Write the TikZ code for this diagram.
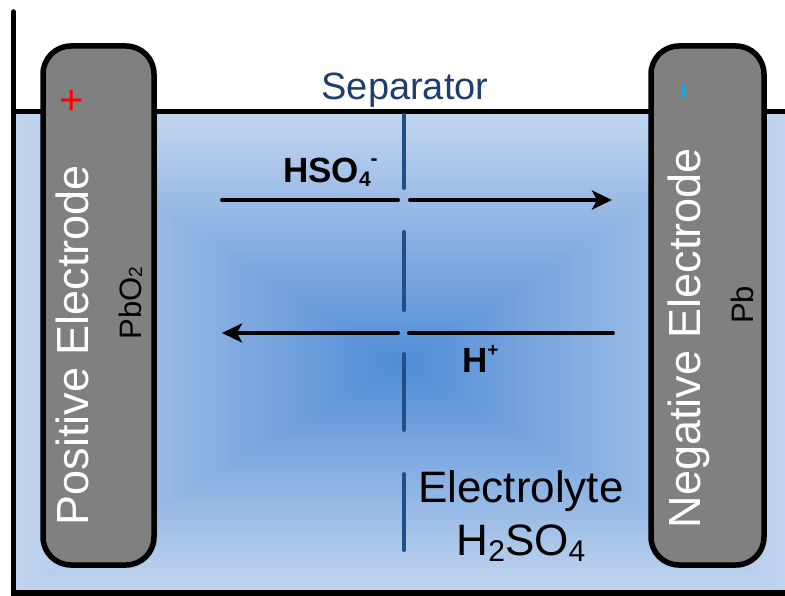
\documentclass[tikz,border=0pt]{standalone}
\usepackage{fontspec}
\setmainfont{Liberation Sans}
\usetikzlibrary{arrows.meta}
\definecolor{edgeblue}{RGB}{194,213,239}
\definecolor{coreblue}{RGB}{80,140,214}
\definecolor{sepblue}{RGB}{32,78,135}
\definecolor{septext}{RGB}{31,62,110}
\definecolor{elgray}{RGB}{128,128,128}
\definecolor{minuscyan}{RGB}{0,176,240}
\newcommand{\smallat}[3]{\raisebox{#1}{\fontsize{#2}{#2}\selectfont #3}}
\tikzset{
  wall/.style={line width=5.5pt, line cap=round},
  electrode/.style={draw=black, line width=5.5pt, fill=elgray, rounded corners=28pt, inner sep=0pt},
  eltext/.style={text=white, font=\fontsize{45}{54}\selectfont, rotate=90, anchor=base, inner sep=0pt},
  mattext/.style={text=black, font=\fontsize{31}{36}\selectfont, rotate=90, anchor=base, inner sep=0pt},
  sepline/.style={draw=sepblue, line width=4pt, line cap=round},
  ionarrow/.style={draw=black, line width=4pt, line cap=round},
  iontip/.style={-{Stealth[length=20pt,width=19pt,inset=5pt]}},
  ionlabel/.style={font=\bfseries\fontsize{35}{40}\selectfont, anchor=base west, inner sep=0pt},
  bigtext/.style={font=\fontsize{44}{50}\selectfont, inner sep=0pt}
}
\begin{document}
\begin{tikzpicture}[x=1pt,y=-1pt]
\useasboundingbox (0,0) rectangle (785,596);
% electrolyte
\coordinate (c0) at (16,114);
\coordinate (c1) at (785,114);
\coordinate (c2) at (785,592);
\coordinate (c3) at (16,592);
\coordinate (cc) at (400,363);
\fill[coreblue!50!edgeblue] (c0) rectangle (c2);
\shade[top color=edgeblue, bottom color=coreblue] (c0) -- (c1) -- (cc) -- cycle;
\shade[top color=coreblue, bottom color=edgeblue] (c3) -- (c2) -- (cc) -- cycle;
\shade[left color=edgeblue, right color=coreblue] (c0) -- (cc) -- (c3) -- cycle;
\shade[left color=coreblue, right color=edgeblue] (c1) -- (cc) -- (c2) -- cycle;
% container
\coordinate (wtop) at (13.5,12);
\coordinate (wbot) at (13.5,593);
\coordinate (wbr) at (790,593);
\coordinate (sl) at (13.5,112);
\coordinate (sr) at (790,112);
\draw[wall] (wtop) -- (wbot) -- (wbr);
\draw[line width=5pt] (sl) -- (sr);
% electrodes
\node[electrode, minimum width=111pt, minimum height=519pt] (pos) at (98.5,305.5) {};
\node[electrode, minimum width=113pt, minimum height=519pt] (neg) at (707.5,305.5) {};
\node[text=red, font=\fontsize{42}{48}\selectfont, inner sep=0pt] (plus) at (72,102) {+};
\node[text=minuscyan, font=\fontsize{45}{50}\selectfont, rotate=90, inner sep=0pt] (minus) at (690,92) {-};
\node[eltext] (postxt) at (88,345) {Positive Electrode};
\node[eltext] (negtxt) at (700,338) {Negative Electrode};
\node[mattext] (pbo2) at (141,303) {PbO\smallat{-1pt}{19}{2}};
\node[mattext] (pb) at (753,305) {Pb};
% separator
\node[text=septext, font=\fontsize{38}{44}\selectfont, anchor=base, inner sep=0pt] (septxt) at (405,100) {Separator};
\coordinate (s1a) at (403.5,115); \coordinate (s1b) at (403.5,188);
\coordinate (s2a) at (403.5,232); \coordinate (s2b) at (403.5,310);
\coordinate (s3a) at (403.5,354); \coordinate (s3b) at (403.5,430);
\coordinate (s4a) at (403.5,474); \coordinate (s4b) at (403.5,550);
\draw[sepline] (s1a) -- (s1b);
\draw[sepline] (s2a) -- (s2b);
\draw[sepline] (s3a) -- (s3b);
\draw[sepline] (s4a) -- (s4b);
% HSO4- arrow
\coordinate (a1) at (222,200); \coordinate (a2) at (398,200);
\coordinate (a3) at (410,200); \coordinate (a4) at (612,200);
\draw[ionarrow] (a1) -- (a2);
\draw[ionarrow, iontip] (a3) -- (a4);
\node[ionlabel] (hso4) at (283,183) {HSO\smallat{-4pt}{21}{4}\smallat{17pt}{21}{-}};
% H+ arrow
\coordinate (b1) at (613,333); \coordinate (b2) at (409,333);
\coordinate (b3) at (398,333); \coordinate (b4) at (222,333);
\draw[ionarrow] (b1) -- (b2);
\draw[ionarrow, iontip] (b3) -- (b4);
\node[ionlabel] (hplus) at (462,372) {H\smallat{16pt}{19}{+}};
% electrolyte label
\node[bigtext, anchor=base] (elyte) at (521,502) {Electrolyte};
\node[bigtext, anchor=base] (h2so4) at (521,555) {H\smallat{-6pt}{30}{2}SO\smallat{-6pt}{30}{4}};
\end{tikzpicture}
\end{document}
